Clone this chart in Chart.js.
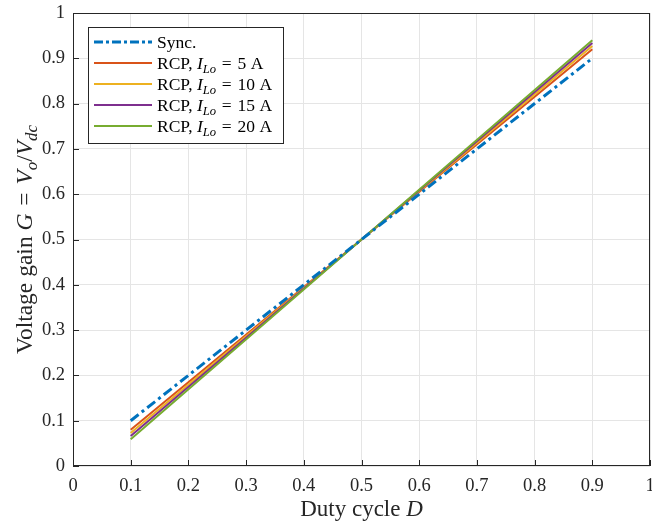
<!DOCTYPE html>
<html>
<head>
<meta charset="utf-8">
<script src="https://cdn.jsdelivr.net/npm/chart.js@4.4.1/dist/chart.umd.min.js"></script>
<style>
  html, body { margin: 0; padding: 0; background: #fff; overflow: hidden; }
  #wrap { width: 652px; height: 529px; }
</style>
</head>
<body>
<div id="wrap"><canvas id="gainChart"></canvas></div>
<script>
// values
const duty = [0.1, 0.5, 0.9];
const syncGain = [0.1, 0.5, 0.9];
const rcp5 = [0.08, 0.5, 0.92];
const rcp10 = [0.073, 0.5, 0.927];
const rcp15 = [0.066, 0.5, 0.934];
const rcp20 = [0.059, 0.5, 0.94];
const currents = [5, 10, 15, 20];
const colors = ['#0072BD', '#D95319', '#EDB120', '#7E2F8E', '#77AC30'];
const axisTicks = [0, 0.1, 0.2, 0.3, 0.4, 0.5, 0.6, 0.7, 0.8, 0.9, 1];

const serif = '"Liberation Serif", "DejaVu Serif", serif';
const pts = ys => duty.map((d, i) => ({ x: d, y: ys[i] }));

// draw text made of pieces (italic / subscript)
function richWidth(ctx, parts, size) {
  let w = 0;
  parts.forEach(p => {
    const fs = p.sub ? size * 0.72 : size;
    ctx.font = (p.it ? 'italic ' : '') + fs + 'px ' + serif;
    w += ctx.measureText(p.t).width;
  });
  return w;
}
function drawRich(ctx, parts, x, y, size) {
  parts.forEach(p => {
    const fs = p.sub ? size * 0.72 : size;
    ctx.font = (p.it ? 'italic ' : '') + fs + 'px ' + serif;
    ctx.fillText(p.t, x, p.sub ? y + size * 0.22 : y);
    x += ctx.measureText(p.t).width;
  });
}

const eq = '\u2004=\u2004';
const legendItems = [
  { parts: [{ t: 'Sync.' }], dash: [9, 3, 3, 3], width: 3 }
].concat(currents.map(c => ({
  parts: [{ t: 'RCP, ' }, { t: 'I', it: true }, { t: 'Lo', it: true, sub: true }, { t: eq + c + ' A' }],
  dash: [], width: 2
})));

const decorPlugin = {
  id: 'decor',
  afterDraw(chart) {
    const ctx = chart.ctx;
    const a = chart.chartArea;
    const xs = chart.scales.x, ys = chart.scales.y;
    ctx.save();
    // box + inner ticks on left/bottom
    ctx.strokeStyle = '#262626';
    ctx.lineWidth = 1;
    ctx.strokeRect(a.left + 0.5, a.top + 0.5, a.right - a.left - 1, a.bottom - a.top - 1);
    ctx.beginPath();
    axisTicks.forEach(v => {
      const px = Math.round(xs.getPixelForValue(v)) + 0.5;
      ctx.moveTo(px, a.bottom); ctx.lineTo(px, a.bottom - 6);
      const py = Math.round(ys.getPixelForValue(v)) + 0.5;
      ctx.moveTo(a.left, py); ctx.lineTo(a.left + 6, py);
    });
    ctx.stroke();

    ctx.fillStyle = '#262626';
    ctx.textBaseline = 'alphabetic';
    // x title
    const xt = [{ t: 'Duty cycle ' }, { t: 'D', it: true }];
    const xw = richWidth(ctx, xt, 23);
    drawRich(ctx, xt, (a.left + a.right) / 2 - xw / 2, 516, 23);
    // y title
    const yt = [{ t: 'Voltage gain ' }, { t: 'G', it: true }, { t: eq }, { t: 'V', it: true },
      { t: 'o', it: true, sub: true }, { t: '/' }, { t: 'V', it: true }, { t: 'dc', it: true, sub: true }];
    const yw = richWidth(ctx, yt, 23.5);
    ctx.translate(32, (a.top + a.bottom) / 2);
    ctx.rotate(-Math.PI / 2);
    drawRich(ctx, yt, -yw / 2, 0, 23.5);
    ctx.restore();

    // legend
    ctx.save();
    const lx = 88, ly = 27, lw = 195, lh = 116;
    ctx.fillStyle = '#fff';
    ctx.fillRect(lx, ly, lw, lh);
    ctx.strokeStyle = '#262626';
    ctx.lineWidth = 1;
    ctx.strokeRect(lx + 0.5, ly + 0.5, lw, lh);
    legendItems.forEach((it, i) => {
      const cy = 42 + i * 21;
      ctx.strokeStyle = colors[i];
      ctx.lineWidth = it.width;
      ctx.setLineDash(it.dash);
      ctx.beginPath();
      ctx.moveTo(94, cy); ctx.lineTo(152, cy);
      ctx.stroke();
      ctx.setLineDash([]);
      ctx.fillStyle = '#000';
      drawRich(ctx, it.parts, 157, cy + 6, 17.5);
    });
    ctx.restore();
  }
};

const series = [syncGain, rcp5, rcp10, rcp15, rcp20];
new Chart(document.getElementById('gainChart'), {
  type: 'line',
  data: {
    datasets: series.map((s, i) => ({
      data: pts(s),
      borderColor: colors[i],
      borderWidth: i === 0 ? 3 : 2,
      borderDash: i === 0 ? [10, 4, 3, 4] : [],
      pointRadius: 0,
      tension: 0,
      order: i === 0 ? 0 : 5 - i
    }))
  },
  options: {
    responsive: true,
    maintainAspectRatio: false,
    animation: false,
    layout: { padding: { left: 0, right: 2, top: 13, bottom: 0 } },
    plugins: { legend: { display: false }, tooltip: { enabled: false } },
    scales: {
      x: {
        type: 'linear', min: 0, max: 1,
        afterFit: s => { s.height = 63; s.paddingLeft = 0; s.paddingRight = 0; },
        afterBuildTicks: s => { s.ticks = axisTicks.map(v => ({ value: v })); },
        grid: { color: '#e5e5e5', drawTicks: false },
        border: { display: false },
        ticks: { padding: 9, color: '#262626', font: { family: serif, size: 18.5 },
          maxRotation: 0, callback: v => String(Math.round(v * 10) / 10) }
      },
      y: {
        type: 'linear', min: 0, max: 1,
        afterFit: s => { s.width = 73; s.paddingTop = 0; s.paddingBottom = 0; },
        afterBuildTicks: s => { s.ticks = axisTicks.map(v => ({ value: v })); },
        grid: { color: '#e5e5e5', drawTicks: false },
        border: { display: false },
        ticks: { padding: 8, color: '#262626', font: { family: serif, size: 18.5 },
          callback: v => String(Math.round(v * 10) / 10) }
      }
    }
  },
  plugins: [decorPlugin]
});
</script>
</body>
</html>
